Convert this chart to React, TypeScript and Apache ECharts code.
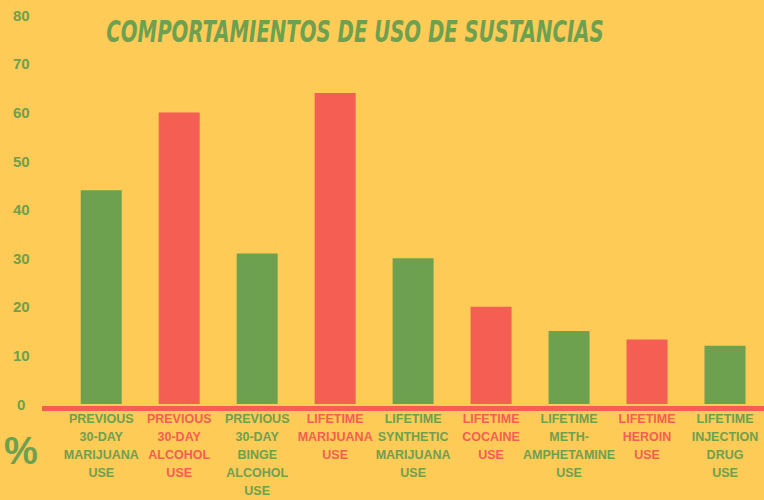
import React, { useEffect, useRef } from "react";
import * as echarts from "echarts";

const categories = [
  "PREVIOUS\n30-DAY\nMARIJUANA\nUSE",
  "PREVIOUS\n30-DAY\nALCOHOL\nUSE",
  "PREVIOUS\n30-DAY\nBINGE\nALCOHOL\nUSE",
  "LIFETIME\nMARIJUANA\nUSE",
  "LIFETIME\nSYNTHETIC\nMARIJUANA\nUSE",
  "LIFETIME\nCOCAINE\nUSE",
  "LIFETIME\nMETH-\nAMPHETAMINE\nUSE",
  "LIFETIME\nHEROIN\nUSE",
  "LIFETIME\nINJECTION\nDRUG\nUSE",
];
const values = [44, 60, 31, 64, 30, 20, 15, 13.3, 12];
const yTicks = { min: 0, max: 80, interval: 10 };
const titleText = "COMPORTAMIENTOS DE USO DE SUSTANCIAS";
const unitText = "%";

const BG = "#FECB57";
const GREEN = "#6DA04F";
const RED = "#F55E53";
const colorAt = (i: number) => (i % 2 === 0 ? GREEN : RED);

export default function App() {
  const ref = useRef<HTMLDivElement>(null);
  useEffect(() => {
    document.body.style.margin = "0";
    if (!ref.current) return;
    const chart = echarts.init(ref.current, null, { renderer: "svg" });
    chart.setOption({
      animation: false,
      backgroundColor: BG,
      grid: { left: 62.25, width: 706.5, top: 15.3, bottom: 93, containLabel: false },
      xAxis: {
        type: "category",
        data: categories,
        axisLine: { show: false },
        axisTick: { show: false },
        axisLabel: {
          interval: 0,
          margin: 6,
          fontFamily: "Liberation Sans, Arial, sans-serif",
          fontWeight: "bold",
          fontSize: 12.5,
          lineHeight: 18,
          color: (_v: any, i: number) => colorAt(i),
        },
      },
      yAxis: {
        type: "value",
        min: yTicks.min,
        max: yTicks.max,
        interval: yTicks.interval,
        axisLine: { show: false },
        axisTick: { show: false },
        splitLine: { show: false },
        axisLabel: {
          align: "center",
          margin: 41,
          color: GREEN,
          fontFamily: "Liberation Sans, Arial, sans-serif",
          fontWeight: "bold",
          fontSize: 15,
          padding: [0, 0, 4, 0],
        },
      },
      graphic: [
        {
          type: "rect",
          z: 0,
          shape: { x: 42, y: 406, width: 730, height: 5 },
          style: { fill: RED },
        },
        {
          type: "text",
          x: 355,
          y: 32,
          scaleX: 0.73,
          style: {
            text: titleText,
            fill: GREEN,
            fontFamily: "DejaVu Sans Condensed, DejaVu Sans, sans-serif",
            fontWeight: "bold",
            fontStyle: "italic",
            fontSize: 30,
            textAlign: "center",
            textVerticalAlign: "middle",
          },
        },
        {
          type: "text",
          x: 21,
          y: 451,
          style: {
            text: unitText,
            fill: GREEN,
            fontFamily: "Liberation Sans, Arial, sans-serif",
            fontWeight: "bold",
            fontSize: 38,
            textAlign: "center",
            textVerticalAlign: "middle",
          },
        },
      ],
      series: [
        {
          type: "bar",
          z: 3,
          barWidth: 41,
          data: values.map((v, i) => ({ value: v, itemStyle: { color: colorAt(i) } })),
        },
      ],
    });
    return () => chart.dispose();
  }, []);
  return (
    <div
      ref={ref}
      style={{ position: "absolute", left: 0, top: 0, width: 764, height: 500 }}
    />
  );
}
